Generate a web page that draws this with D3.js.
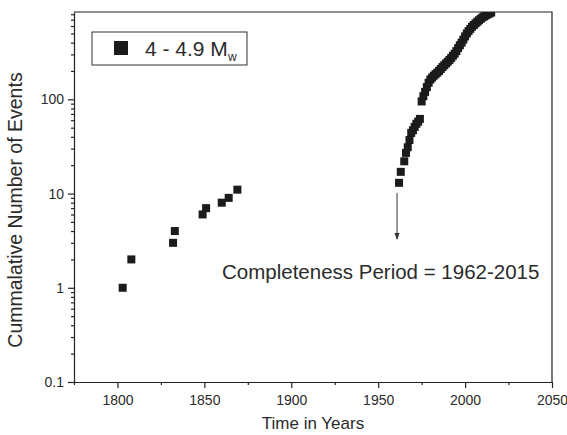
<!DOCTYPE html>
<html>
<head>
<meta charset="utf-8">
<script src="https://cdn.jsdelivr.net/npm/d3@7"></script>
<style>
body { margin: 0; background: #fff; overflow: hidden; }
text { font-family: "Liberation Sans", Arial, sans-serif; fill: #2b2b2b; }
</style>
</head>
<body>
<div id="chart"></div>
<script>
// historical events (before completeness period)
var histYears  = [1803, 1808, 1832, 1833, 1849, 1851, 1860, 1864, 1869];
var histCounts = [1, 2, 3, 4, 6, 7, 8, 9, 11];

// completeness period 1962-2015
var compYears = [1962, 1963, 1965, 1966, 1967, 1968, 1969, 1970, 1971, 1972, 1973, 1974,
  1975, 1976, 1977, 1978, 1979, 1980, 1981, 1982, 1983, 1984, 1985, 1986, 1987, 1988,
  1989, 1990, 1991, 1992, 1993, 1994, 1995, 1996, 1997, 1998, 1999, 2000, 2001, 2002,
  2003, 2004, 2005, 2006, 2007, 2008, 2009, 2010, 2011, 2012, 2013, 2014, 2015];
var compCounts = [13, 17, 22, 27, 31, 37, 44, 47, 51, 55, 58, 62,
  95, 108, 120, 135, 150, 162, 170, 178, 185, 192, 200, 210, 220, 230,
  240, 250, 262, 275, 290, 305, 325, 350, 375, 400, 430, 465, 500, 530,
  560, 590, 615, 640, 665, 690, 715, 740, 760, 780, 800, 815, 835];

var xTicks = [1800, 1850, 1900, 1950, 2000, 2050];
var yTicks = [0.1, 1, 10, 100];

var margin = {top: 12, right: 15, bottom: 53, left: 74},
    width = 567 - margin.left - margin.right,
    height = 435 - margin.top - margin.bottom;

var svg = d3.select("#chart")
  .append("svg")
    .attr("width", 567)
    .attr("height", 435)
    .style("display", "block")
  .append("g")
    .attr("transform", "translate(" + margin.left + "," + margin.top + ")");

var x = d3.scaleLinear()
    .domain([1775, 2050])
    .range([0, width]);

var y = d3.scaleLog()
    .domain([0.1, 845])
    .range([height, 0]);

svg.append("clipPath").attr("id", "clip")
  .append("rect").attr("width", width).attr("height", height);

// x axis: major + minor
var xMinor = d3.range(1775, 2051, 25).filter(function(d){ return xTicks.indexOf(d) < 0; });
svg.append("g")
    .attr("transform", "translate(0," + height + ")")
    .call(d3.axisBottom(x).tickValues(xMinor).tickSize(3).tickFormat(""))
    .call(function(g){ g.select(".domain").remove(); });
var gx = svg.append("g")
    .attr("transform", "translate(0," + height + ")")
    .call(d3.axisBottom(x).tickValues(xTicks).tickSize(6).tickSizeOuter(0).tickFormat(d3.format("d")).tickPadding(7));
gx.selectAll("text").style("font-size", "14px");

// y axis: major + minor
var yMinor = [];
[0.1, 1, 10, 100].forEach(function(dec){
  for (var k = 2; k <= 9; k++) { if (dec * k <= 845) yMinor.push(dec * k); }
});
svg.append("g")
    .call(d3.axisLeft(y).tickValues(yMinor).tickSize(3).tickFormat(""))
    .call(function(g){ g.select(".domain").remove(); });
var gy = svg.append("g")
    .call(d3.axisLeft(y).tickValues(yTicks).tickSize(6).tickSizeOuter(0)
      .tickFormat(function(d){ return d < 1 ? "0.1" : d3.format("d")(d); }).tickPadding(4));
gy.selectAll("text").style("font-size", "14px");

svg.selectAll(".domain, .tick line").attr("stroke", "#222").attr("stroke-width", 1.2);

// frame top/right
svg.append("path")
    .attr("d", "M0,0H" + width + "V" + height)
    .attr("fill", "none").attr("stroke", "#222").attr("stroke-width", 1.2);

// points
var pts = [];
histYears.forEach(function(d, i){ pts.push({year: d, n: histCounts[i]}); });
compYears.forEach(function(d, i){ pts.push({year: d, n: compCounts[i]}); });

svg.append("g").attr("clip-path", "url(#clip)")
  .selectAll("rect")
  .data(pts)
  .enter()
  .append("rect")
    .attr("x", function(d){ return x(d.year) - 4; })
    .attr("y", function(d){ return y(d.n) - 4; })
    .attr("width", 8)
    .attr("height", 8)
    .style("fill", "#1c1a1a");

// arrow
var ax = x(1962) - 2;
svg.append("line")
    .attr("x1", ax).attr("x2", ax)
    .attr("y1", y(12) + 7).attr("y2", y(3.3))
    .attr("stroke", "#333").attr("stroke-width", 1);
svg.append("path")
    .attr("d", "M" + (ax - 2.5) + "," + (y(3.3) - 6) + "L" + ax + "," + (y(3.3) + 1) + "L" + (ax + 2.5) + "," + (y(3.3) - 6) + "Z")
    .attr("fill", "#333");

svg.append("text")
    .attr("x", 148).attr("y", y(1.5) + 8)
    .style("font-size", "20.5px")
    .text("Completeness Period = 1962-2015");

// legend
var leg = svg.append("g").attr("transform", "translate(18,20)");
leg.append("rect")
    .attr("width", 155).attr("height", 33)
    .attr("fill", "#fff").attr("stroke", "#333").attr("stroke-width", 1);
leg.append("rect")
    .attr("x", 22).attr("y", 9).attr("width", 14).attr("height", 14)
    .style("fill", "#1c1a1a");
var lt = leg.append("text").attr("x", 53).attr("y", 24).style("font-size", "21px");
lt.append("tspan").text("4 - 4.9 M");
lt.append("tspan").attr("dy", 5).style("font-size", "12px").text("w");

// axis titles
svg.append("text")
    .attr("x", width / 2).attr("y", height + 47)
    .attr("text-anchor", "middle")
    .style("font-size", "17px")
    .text("Time in Years");

svg.append("text")
    .attr("transform", "translate(-52," + (height / 2 + 13) + ") rotate(-90)")
    .attr("text-anchor", "middle")
    .style("font-size", "19.5px")
    .text("Cummalative Number of Events");
</script>
</body>
</html>
